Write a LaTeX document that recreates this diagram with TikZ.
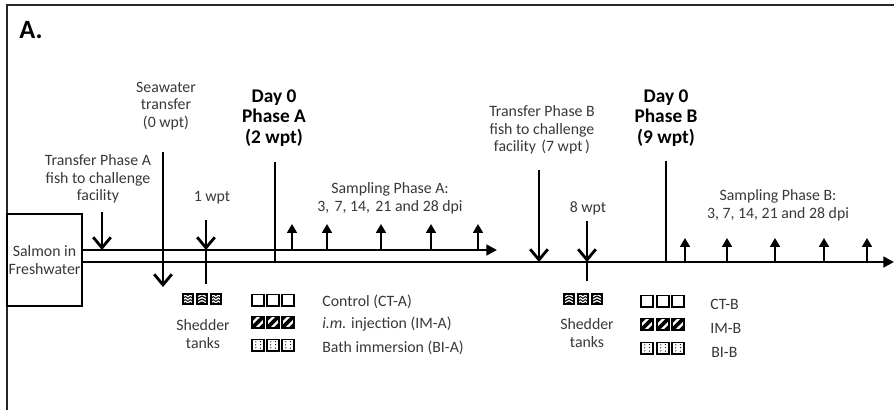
\documentclass[tikz,border=0pt]{standalone}
\usepackage{fontspec}
\setmainfont{Carlito}
\usetikzlibrary{arrows.meta,calc}
\tikzset{
  lbl/.style={font=\fontsize{9}{10}\selectfont, text=black!78, align=center, inner sep=0pt},
  bigl/.style={font=\fontsize{11}{11.8}\selectfont\bfseries, align=center, inner sep=0pt},
  rowl/.style={font=\fontsize{9}{10}\selectfont, text=black!78, anchor=west, inner sep=0pt},
  tline/.style={line width=1.6pt},
  downarr/.style={line width=1.6pt, -{Straight Barb[length=6pt,width=10pt]}},
  uparr/.style={line width=1.4pt, -{Triangle[length=5pt,width=5.5pt]}},
  endarr/.style={line width=1.6pt, -{Triangle[length=6pt,width=6pt]}},
  tank/.style={draw, line width=1pt, minimum size=0.225cm, inner sep=0pt},
  shed/.style={draw, line width=0.8pt, minimum size=0.205cm, inner sep=0pt, fill=black},
  im/.style={path picture={
    \fill[black] (path picture bounding box.south west) rectangle (path picture bounding box.north east);
    \draw[white, line width=1.3pt] ($(path picture bounding box.south west)+(-0.02cm,0.07cm)$) -- ++(0.4cm,0.4cm);
    \draw[white, line width=1.3pt] ($(path picture bounding box.south west)+(0.07cm,-0.02cm)$) -- ++(0.4cm,0.4cm);
  }},
  bi/.style={path picture={
    \foreach \px/\py in {0.07/0.055,0.16/0.05,0.065/0.115,0.165/0.12,0.07/0.175,0.16/0.18}
      \fill[black] ($(path picture bounding box.south west)+(\px cm,\py cm)$) circle (0.42pt);
  }},
  shzig/.style={path picture={
    \foreach \py in {0.025,0.085,0.145}
      \draw[white, line width=0.7pt] ($(path picture bounding box.south west)+(0,\py cm)$) -- ++(0.05cm,0.035cm) -- ++(0.05cm,-0.035cm) -- ++(0.05cm,0.035cm) -- ++(0.05cm,-0.035cm);
  }},
  shchev/.style={path picture={
    \foreach \py in {0.025,0.085,0.145}
      \draw[white, line width=0.7pt] ($(path picture bounding box.south west)+(0.015cm,\py cm)$) -- ++(0.0875cm,0.045cm) -- ++(0.0875cm,-0.045cm);
  }},
}
\begin{document}
\begin{tikzpicture}[x=0.02cm, y=-0.02cm]
\useasboundingbox (0,0) rectangle (894,410);
% frame
\draw[line width=0.9pt, black!85] (7,410) -- (7,5) -- (894,5);
\node[font=\fontsize{15}{16}\selectfont\bfseries, inner sep=0pt] (title) at (31,30) {A.};
% salmon box
\node[draw, line width=0.8pt, minimum width=1.5cm, minimum height=1.84cm, inner sep=0pt, lbl] (salmon) at (44.5,260) {Salmon in\\Freshwater};
% timelines
\coordinate (tA0) at (82,250); \coordinate (tAend) at (497,250);
\coordinate (tB0) at (82,262); \coordinate (tBend) at (894,262);
\draw[endarr] (tA0) -- (tAend);
\draw[endarr] (tB0) -- (tBend);
% transfer phase A
\node[lbl] (trAt) at (98,179) {Transfer Phase A\\fish to challenge\\facility};
\coordinate (trA) at (102,212);
\draw[downarr] (trA) -- (trA |- tA0);
% seawater
\node[lbl] (swt) at (166,106) {Seawater\\transfer\\(0 wpt)};
\coordinate (sw1) at (163,152); \coordinate (sw2) at (163,287);
\draw[downarr] (sw1) -- (sw2);
% 1 wpt
\node[lbl] (w1t) at (212,198) {1 wpt};
\coordinate (w1) at (206,220); \coordinate (w1b) at (206,284);
\draw[downarr] (w1) -- (w1 |- tA0);
\draw[tline] (w1 |- tA0) -- (w1b);
% Day 0 phase A
\node[bigl] (d0A) at (274,118) {Day 0\\Phase A\\(2 wpt)};
\coordinate (dA) at (275,162);
\draw[tline] (dA) -- (dA |- tB0);
% sampling A
\node[lbl] (sAt) at (390,198) {Sampling Phase A:\\3,\,\,7, 14,\,\,21 and 28 dpi};
\foreach \xx in {292,327,381,431,478}{
  \coordinate (sa\xx) at (\xx,224);
  \draw[uparr] (sa\xx |- tA0) -- (sa\xx);
}
% transfer phase B
\node[lbl] (trBt) at (542,130) {Transfer Phase B\\fish to challenge\\facility\,\,(7 wpt\,)};
\coordinate (trB) at (539,170);
\draw[downarr] (trB) -- (trB |- tB0);
% 8 wpt
\node[lbl] (w8t) at (588,208) {8 wpt};
\coordinate (w8) at (587,221); \coordinate (w8b) at (587,281);
\draw[downarr] (w8) -- (w8 |- tB0);
\draw[tline] (w8 |- tB0) -- (w8b);
% Day 0 phase B
\node[bigl] (d0B) at (666,118) {Day 0\\Phase B\\(9 wpt)};
\coordinate (dB) at (666,161);
\draw[tline] (dB) -- (dB |- tB0);
% sampling B
\node[lbl] (sBt) at (778,205) {Sampling Phase B:\\3, 7, 14, 21 and 28 dpi};
\foreach \xx in {685,727,775,824,867}{
  \coordinate (sb\xx) at (\xx,238);
  \draw[uparr] (sb\xx |- tB0) -- (sb\xx);
}
% shedder tanks A
\node[shed, shzig] (shA1) at (188,299) {};
\node[shed, shchev] (shA2) at (202,299) {};
\node[shed, shzig] (shA3) at (216,299) {};
\node[lbl] (shAt) at (203,334) {Shedder\\tanks};
% treatment tanks A
\foreach \xx/\i in {258/1,273/2,288/3}{
  \node[tank] (ctA\i) at (\xx,300) {};
  \node[tank, im] (imA\i) at (\xx,322) {};
  \node[tank, bi] (biA\i) at (\xx,345) {};
}
\node[rowl] (ctAt) at (322,302) {Control (CT-A)};
\node[rowl] (imAt) at (322,324) {\textit{i.m.} injection (IM-A)};
\node[rowl] (biAt) at (322,348) {Bath immersion (BI-A)};
% shedder tanks B
\node[shed, shchev] (shB1) at (569,299) {};
\node[shed, shzig] (shB2) at (583,299) {};
\node[shed, shchev] (shB3) at (597,299) {};
\node[lbl] (shBt) at (587,333) {Shedder\\tanks};
% treatment tanks B
\foreach \xx/\i in {647/1,663/2,678/3}{
  \node[tank] (ctB\i) at (\xx,301) {};
  \node[tank, im] (imB\i) at (\xx,324) {};
  \node[tank, bi] (biB\i) at (\xx,348) {};
}
\node[rowl] (ctBt) at (710,304) {CT-B};
\node[rowl] (imBt) at (710,328) {IM-B};
\node[rowl] (biBt) at (711,352) {BI-B};
\end{tikzpicture}
\end{document}
